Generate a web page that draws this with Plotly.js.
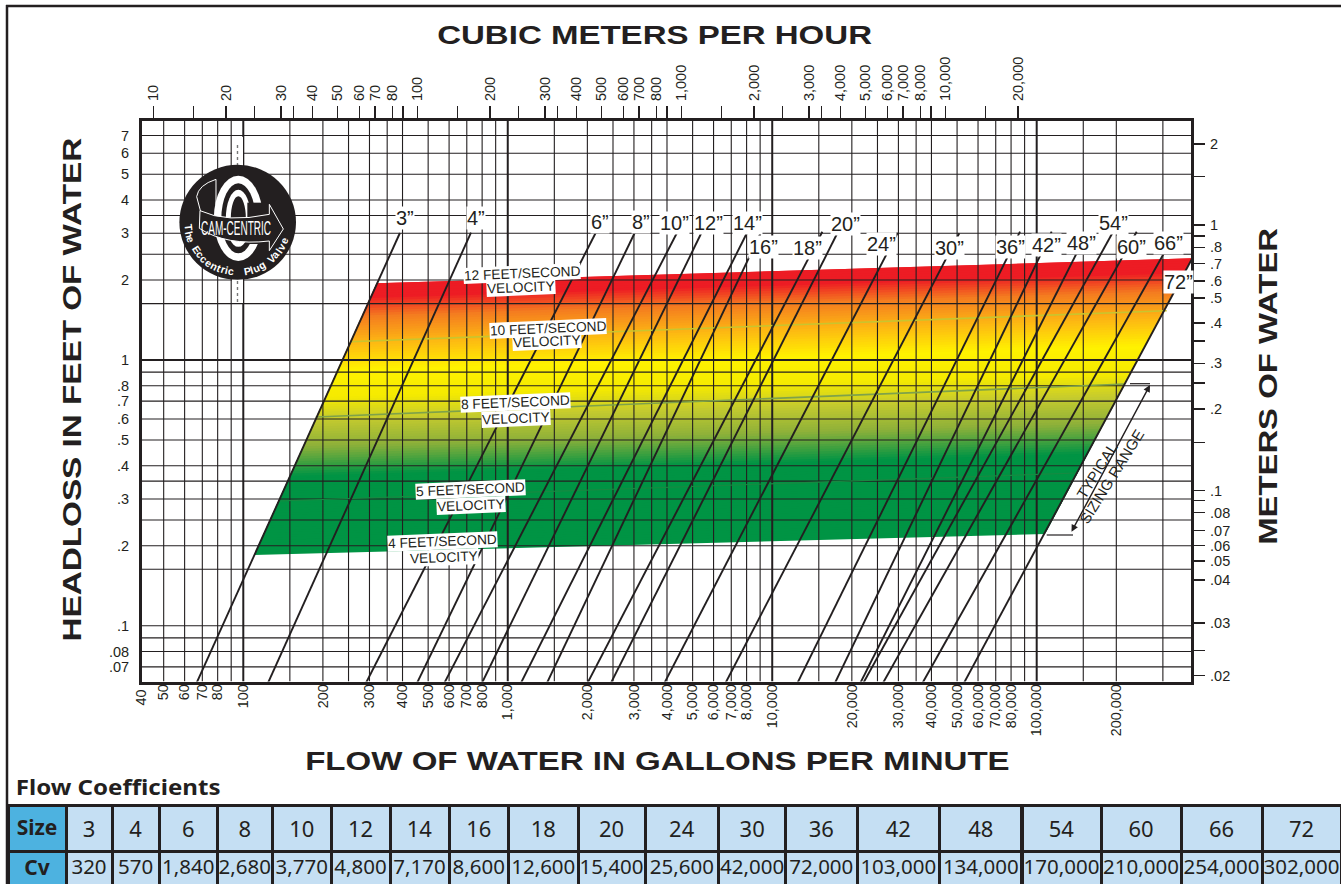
<!DOCTYPE html>
<html><head><meta charset="utf-8">
<script src="https://cdn.plot.ly/plotly-3.0.1.min.js"></script>
<style>html,body{margin:0;padding:0;background:#fff;overflow:hidden}#plot{width:1341px;height:884px}</style>
</head><body><div id="plot"></div>
<script>
// ---------- data ----------
const sizeNames = ['3”','4”','6”','8”','10”','12”','14”','16”','18”','20”','24”','30”','36”','42”','48”','54”','60”','66”','72”'];
const lineStartGpm = [66.6,124,291,454,576,799,1122,1407,2003,2456,3913,6660,12460,17270,21540,22110,26230,37000,53100];
const lineStartFt = 0.0609;
const lineEndGpm = [391,726,2156,3028,4375,5412,8048,9070,15470,17620,29810,50960,86480,113900,141700,193100,238800,303600,387500];
const lineEndFt = [3.006,3.014,3.025,3.025,3.025,3.025,3.025,3.025,3.04,2.998,3.014,2.998,3.04,3.04,2.527,2.998,3.04,2.534,2.414];

const velocityNames = ['10 FEET/SECOND','8 FEET/SECOND','5 FEET/SECOND'];
const velocityGpm = [[253,310000],[188,215700],[136.5,142000]];
const velocityFt = [[1.172,1.533],[0.610,0.812],[0.2947,0.3756]];

// corners of the sizing band: bottom-left, bottom-right, top-right, top-left
const bandGpm = [109.8,107500,387500,319];
const bandFt = [0.1845,0.2214,2.414,1.944];
const bandStops = [0,0.05,0.12,0.22,0.32,0.42,0.5,0.6,0.71,1];
const bandColors = ['#ed1c24','#ed1c24','#f47b20','#fdb813','#fff200','#f5ea00','#c6cb2e','#8db03a','#009444','#009444'];

const gpmTickVals = [50,60,70,80,100,200,300,400,500,600,700,800,1000,2000,3000,4000,5000,6000,7000,8000,10000,20000,30000,40000,50000,60000,70000,80000,100000,200000];
const gpmTickText = ['50','60','70','80','100','200','300','400','500','600','700','800','1,000','2,000','3,000','4,000','5,000','6,000','7,000','8,000','10,000','20,000','30,000','40,000','50,000','60,000','70,000','80,000','100,000','200,000'];
const ftTickVals = [7,6,5,4,3,2,1,.8,.7,.6,.5,.4,.3,.2,.1,.08,.07];
const ftTickText = ['7','6','5','4','3','2','1','.8','.7','.6','.5','.4','.3','.2','.1','.08','.07'];

// the reference's outer scales are hand drawn: ticks sit where the picture shows them
const m3hTickVals = [10,14.18,18.78,24.06,30.35,33.8,39.89,49.6,60.3,68.9,80.1,88,100,141.8,187.8,240.6,303.5,338,398.9,496,603,689,801,880,1000,1418,1878,2406,3035,3380,3989,4960,6030,6890,8010,8800,10000,14180,18780];
const m3hTickText = ['10','','20','','30','','40','50','60','70','80','','100','','200','','300','','400','500','600','700','800','','1,000','','2,000','','3,000','','4,000','5,000','6,000','7,000','8,000','','10,000','','20,000'];
const meterTickVals = [2.02,1.52,1,.909,.824,.716,.616,.531,.428,.366,.302,.254,.203,.152,.1,.0917,.0827,.0707,.0621,.0544,.0461,.0318,.0251,.0201];
const meterTickText = ['2','','1','','.8','.7','.6','.5','.4','','.3','','.2','','.1','','.08','.07','.06','.05','.04','.03','','.02'];

const gridMantissa = [1,1.5,2,2.5,3,3.5,4,5,6,7,8,9];
const gridLowGpm = [50,60,70,80,90];
const gridHighGpm = [100000,150000,200000,300000];
const gridFt = [7,6,5,4,3.5,3,2.5,2,1.63,1,.9,.8,.7,.6,.5,.4,.35,.3,.25,.2,.163,.1,.09,.08,.07];

const tableSizes = ['3','4','6','8','10','12','14','16','18','20','24','30','36','42','48','54','60','66','72'];
const tableCv = ['320','570','1,840','2,680','3,770','4,800','7,170','8,600','12,600','15,400','25,600','42,000','72,000','103,000','134,000','170,000','210,000','254,000','302,000'];
const tableColWidths = [58,46,47.4,57.6,55.6,58.4,59,59,59.5,69.5,67,73.8,66.7,71.5,82.6,82.4,79,80,81,79];

// ---------- layout constants ----------
const W=1341,H=884, INK='#231f20';
const XR=[1.617,5.5842], YR=[-1.21,0.8995];
const X0=10**XR[0], X1=10**XR[1], Y0=10**YR[0], Y1=10**YR[1];
const SANS='"Liberation Sans", Arial, sans-serif';

const traces=[];
// colour band: overlapping strips so that neighbours leave no seams
function hex(c){return [1,3,5].map(i=>parseInt(c.substr(i,2),16));}
function colorAt(t){
  let i=0; while(i<bandStops.length-2 && t>bandStops[i+1]) i++;
  const f=(t-bandStops[i])/(bandStops[i+1]-bandStops[i]);
  const a=hex(bandColors[i]),b=hex(bandColors[i+1]);
  return 'rgb('+a.map((v,k)=>Math.round(v+(b[k]-v)*f)).join(',')+')';
}
function lerpLog(a,b,f){return 10**(Math.log10(a)+(Math.log10(b)-Math.log10(a))*f);}
const N=110;
for(let i=N;i>=1;i--){
  const t=i/N, u=Math.max(0,(i-2.5)/N); // t: lower edge of the strip, u: its upper edge (0 = top of band)
  const xl=lerpLog(bandGpm[3],bandGpm[0],t), yl=lerpLog(bandFt[3],bandFt[0],t);
  const xr=lerpLog(bandGpm[2],bandGpm[1],t), yr=lerpLog(bandFt[2],bandFt[1],t);
  const xl2=lerpLog(bandGpm[3],bandGpm[0],u), yl2=lerpLog(bandFt[3],bandFt[0],u);
  const xr2=lerpLog(bandGpm[2],bandGpm[1],u), yr2=lerpLog(bandFt[2],bandFt[1],u);
  traces.push({x:[xl,xr,xr2,xl2,xl],y:[yl,yr,yr2,yl2,yl],mode:'lines',fill:'toself',
    fillcolor:colorAt((i-.5)/N),line:{width:0},hoverinfo:'skip',showlegend:false});
}
// grid
function vLines(vals){const x=[],y=[];vals.forEach(v=>{x.push(v,v,null);y.push(Y0,Y1,null);});return {x,y};}
function hLines(vals){const x=[],y=[];vals.forEach(v=>{x.push(X0,X1,null);y.push(v,v,null);});return {x,y};}
const midGpm=[...gridLowGpm];
[100,1000,10000].forEach(d=>gridMantissa.forEach(m=>{if(m!==1)midGpm.push(d*m);}));
gridHighGpm.slice(1).forEach(v=>midGpm.push(v));
[[vLines(midGpm),1.1],[hLines(gridFt.filter(v=>v!==1)),1.1],[vLines([100,1000,10000,100000]),2],[hLines([1]),1.8]].forEach(([d,w])=>{
  traces.push({...d,mode:'lines',line:{color:INK,width:w},connectgaps:false,hoverinfo:'skip',showlegend:false});
});
// velocity lines
const velColors=['#c9c52e','#7ea24a','#178a42'];
velocityNames.forEach((n,i)=>traces.push({x:velocityGpm[i],y:velocityFt[i],name:n,mode:'lines',line:{color:velColors[i],width:i==2?1.2:1.6},hoverinfo:'skip',showlegend:false}));
// valve size lines
sizeNames.forEach((n,i)=>traces.push({x:[lineStartGpm[i],lineEndGpm[i]],y:[lineStartFt,lineEndFt[i]],name:n,mode:'lines',line:{color:INK,width:1.9},hoverinfo:'skip',showlegend:false}));
// keep the outer axes live
traces.push({x:[100],y:[1],xaxis:'x2',yaxis:'y',mode:'markers',marker:{opacity:0},hoverinfo:'skip',showlegend:false});
traces.push({x:[1000],y:[.3],xaxis:'x',yaxis:'y2',mode:'markers',marker:{opacity:0},hoverinfo:'skip',showlegend:false});
// table
const blue='#4db2e0', pale='#c5dff3';
const NOTO='"Noto Sans"';
traces.push({type:'table',domain:{x:[8/W,1],y:[0,79/H]},columnwidth:tableColWidths,
  header:{values:['Size',...tableSizes].map(v=>'<span>'+v+'</span>'),height:40,align:'center',line:{color:INK,width:3},
    fill:{color:[blue,...tableSizes.map(()=>pale)]},font:{family:NOTO,size:[21,...tableSizes.map(()=>22)],weight:[700,...tableSizes.map(()=>400)],color:INK}},
  cells:{values:[['Cv'],...tableCv.map(v=>[v])],height:39,align:'center',line:{color:INK,width:3},
    fill:{color:[blue,...tableCv.map(()=>pale)]},font:{family:NOTO,size:[21,...tableCv.map(()=>20.5)],weight:[700,...tableCv.map(()=>400)],color:INK}}
});

// ---------- annotations ----------
const px=(x,y,o)=>Object.assign({xref:'paper',yref:'paper',x:x/W,y:1-y/H,xanchor:'center',yanchor:'middle',showarrow:false,font:{family:SANS,color:INK,size:14}},o||{});
const ann=[];
function tl(text,x,y,size,bold,angle){ann.push(px(x,y,{text:bold?'<b>'+text+'</b>':text,textangle:angle||0,font:{family:SANS,color:INK,size}}));}
tl('CUBIC METERS PER HOUR',654.5,35,25,true);
tl('FLOW OF WATER IN GALLONS PER MINUTE',657.5,761,25,true);
tl('HEADLOSS IN FEET OF WATER',72,390,25,true,-90);
tl('METERS OF WATER',1268,387,25,true,-90);
ann.push(px(117.5,787,{text:'<b>Flow Coefficients</b>',font:{family:NOTO,size:20.5,color:INK}}));
ann.push(px(140.5,698,{text:'40',textangle:-90,font:{family:SANS,size:14.4,color:INK}}));

const sizeLabelPos=[[405,218],[476,218],[600,222],[641,222],[674,223],[709,223],[747,223],[763,247],[808,248],[845,224],[881,244],[949,248],[1010,247],[1046,245],[1081,243],[1113,223],[1131,247],[1168,243],[1178,282]];
sizeNames.forEach((n,i)=>ann.push(px(sizeLabelPos[i][0],sizeLabelPos[i][1],{text:n,bgcolor:'#fff',borderpad:0,font:{family:SANS,size:20,color:INK}})));

const velLabels=[['12 FEET/SECOND',522,273],['VELOCITY',521,288],['10 FEET/SECOND',548,328],['VELOCITY',547,342],['8 FEET/SECOND',515,403],['VELOCITY',516,418],['5 FEET/SECOND',470,489],['VELOCITY',471,505],['4 FEET/SECOND',443,541],['VELOCITY',444,557]];
velLabels.forEach(v=>ann.push(px(v[1],v[2],{text:v[0],textangle:-2.4,bgcolor:'#fff',borderpad:0,font:{family:SANS,size:13.7,color:INK}})));

ann.push(px(1096.7,470,{text:'TYPICAL',textangle:-58,font:{family:SANS,size:15,color:INK}}));
ann.push(px(1111.7,476.7,{text:'SIZING RANGE',textangle:-58,font:{family:SANS,size:15,color:INK}}));
// double arrow
ann.push({xref:'paper',yref:'paper',axref:'pixel',ayref:'pixel',x:1150/W,y:1-385/H,ax:-79.3,ay:148.3,text:'',showarrow:true,arrowside:'end+start',arrowhead:2,startarrowhead:2,arrowsize:1,arrowwidth:1.4,arrowcolor:INK,standoff:0,startstandoff:0});

// logo
const LX=237.7,LY=222.3;
const z=(a,b)=>[170+a/3,160+b/3];
const P=(a,b)=>{const [x,y]=z(a,b);return (x/W).toFixed(5)+' '+(1-y/H).toFixed(5);};
const shapes=[];
const pline=(x0,y0,x1,y1,c,w,dash)=>({type:'line',xref:'paper',yref:'paper',x0:x0/W,x1:x1/W,y0:1-y0/H,y1:1-y1/H,line:{color:c,width:w,dash:dash||'solid'},layer:'above'});
const rect=(x0,y0,x1,y1,c)=>({type:'rect',xref:'paper',yref:'paper',x0:x0/W,x1:x1/W,y0:1-y0/H,y1:1-y1/H,fillcolor:c,line:{width:0},layer:'above'});
const ell=(cx,cy,rx,ry,c)=>({type:'circle',xref:'paper',yref:'paper',x0:(cx-rx)/W,x1:(cx+rx)/W,y0:1-(cy-ry)/H,y1:1-(cy+ry)/H,fillcolor:c,line:{width:0},layer:'above'});
shapes.push(rect(232,137,243,170,'#fff'),rect(232,275,243,303,'#fff'));
shapes.push(pline(237.5,145,237.5,170,'#777',1.4,'dot'),pline(237.5,275,237.5,303,'#777',1.4,'dot'));
shapes.push(ell(LX,LY,58.3,57.5,INK));
const [cx,cy]=z(205,175);
shapes.push(ell(cx,cy,24.5,42.7,'#fff'),ell(cx,cy,17,35,INK),ell(cx,cy,12.5,28.5,'#fff'),ell(cx,cy,7.5,22,INK));
shapes.push({type:'rect',xref:'paper',yref:'paper',x0:z(232,0)[0]/W,x1:z(295,0)[0]/W,y0:1-z(0,128)[1]/H,y1:1-z(0,252)[1]/H,fillcolor:INK,line:{width:0},layer:'above'});
shapes.push({type:'path',xref:'paper',yref:'paper',path:`M ${P(138,58)} Q ${P(85,75)} ${P(80,110)} L ${P(92,155)} M ${P(138,58)} L ${P(138,135)}`,line:{color:'#fff',width:1},layer:'above'});
shapes.push({type:'path',xref:'paper',yref:'paper',path:`M ${P(90,152)} Q ${P(170,190)} ${P(298,163)} L ${P(298,133)} L ${P(340,207)} L ${P(298,272)} L ${P(298,243)} Q ${P(170,258)} ${P(88,205)} Z`,fillcolor:INK,line:{color:'#fff',width:1},layer:'above'});
const [bx,by]=z(198,205);
ann.push(px(bx,by,{text:'CAM-CENTRIC',font:{family:SANS,size:14,color:'#fff'},textangle:0}));
// wording that runs round the logo, letter by letter
function arc(text,a0,a1){
  const w=c=>({i:.5,l:.5,t:.6,r:.7,' ':.8,f:.6}[c]||1);
  const total=[...text].reduce((s,c)=>s+w(c),0)-w(text[0])/2-w(text[text.length-1])/2;
  let run=0;
  [...text].forEach((c,i)=>{
    if(i>0) run+=(w(text[i-1])+w(c))/2;
    if(c===' ') return;
    const th=(a0+(a1-a0)*run/total)*Math.PI/180;
    ann.push(px(LX+49.5*Math.cos(th),LY+49.5*Math.sin(th),{text:'<b>'+c+'</b>',textangle:(th*180/Math.PI)-90,font:{family:SANS,size:10.5,color:'#fff'}}));
  });
}
arc('The Eccentric',174,98);
arc('Plug Valve',79,22);

// terminators of the sizing range arrow, and the page frame
shapes.push(pline(1046.7,535,1073,535,INK,1.2),pline(1130,383.7,1150,383.7,INK,1.2));
shapes.push(pline(7,5,7,884,INK,2.5),pline(6,6,1341,6,INK,2.5));

// ---------- axes ----------
const tf=(s)=>({family:SANS,size:s,color:INK});
const layout={width:W,height:H,margin:{l:0,r:0,t:0,b:0,pad:0},paper_bgcolor:'#fff',plot_bgcolor:'#fff',showlegend:false,
  xaxis:{type:'log',domain:[142/W,1191.2/W],range:XR,tickmode:'array',tickvals:gpmTickVals,ticktext:gpmTickText,tickangle:-90,ticks:'',ticklabelstandoff:-6,tickfont:tf(14.4),showgrid:false,zeroline:false,showline:true,linecolor:INK,linewidth:3,anchor:'y',fixedrange:true},
  xaxis2:{type:'log',overlaying:'x',side:'top',anchor:'y',range:[0.9557,4.93],tickmode:'array',tickvals:m3hTickVals,ticktext:m3hTickText,tickangle:-90,ticks:'outside',ticklen:12,tickwidth:1.3,tickcolor:INK,ticklabelstandoff:2,tickfont:tf(14.5),showgrid:false,zeroline:false,showline:true,linecolor:INK,linewidth:3,fixedrange:true},
  yaxis:{type:'log',domain:[1-681.5/H,1-121/H],range:YR,tickmode:'array',tickvals:ftTickVals,ticktext:ftTickText,ticks:'',ticklabelstandoff:7,tickfont:tf(14.5),showgrid:false,zeroline:false,showline:true,linecolor:INK,linewidth:3,anchor:'x',fixedrange:true},
  yaxis2:{type:'log',overlaying:'y',side:'right',anchor:'x',range:[-1.7181,0.3914],tickmode:'array',tickvals:meterTickVals,ticktext:meterTickText,ticks:'outside',ticklen:11,tickwidth:1.3,tickcolor:INK,ticklabelstandoff:2,tickfont:tf(14.5),showgrid:false,zeroline:false,showline:true,linecolor:INK,linewidth:3,fixedrange:true},
  annotations:ann,shapes
};
// stretch the display wordings to the wide face of the reference
function stretch(match,targetW,sy){
  document.querySelectorAll('text.annotation-text').forEach(t=>{
    if(t.textContent!==match) return;
    const b=t.getBBox();
    const sx=targetW/b.width, c=b.x+b.width/2, m=b.y+b.height/2;
    t.setAttribute('transform',`translate(${c},${m}) scale(${sx},${sy}) translate(${-c},${-m})`);
  });
}
Plotly.newPlot('plot',traces,layout,{displayModeBar:false,staticPlot:true}).then(()=>{
  stretch('CUBIC METERS PER HOUR',435,1);
  stretch('FLOW OF WATER IN GALLONS PER MINUTE',705,1);
  stretch('HEADLOSS IN FEET OF WATER',504,1);
  stretch('METERS OF WATER',317,1);
  stretch('CAM-CENTRIC',70,1.5);
  stretch('Flow Coefficients',205,1);
});
</script></body></html>
